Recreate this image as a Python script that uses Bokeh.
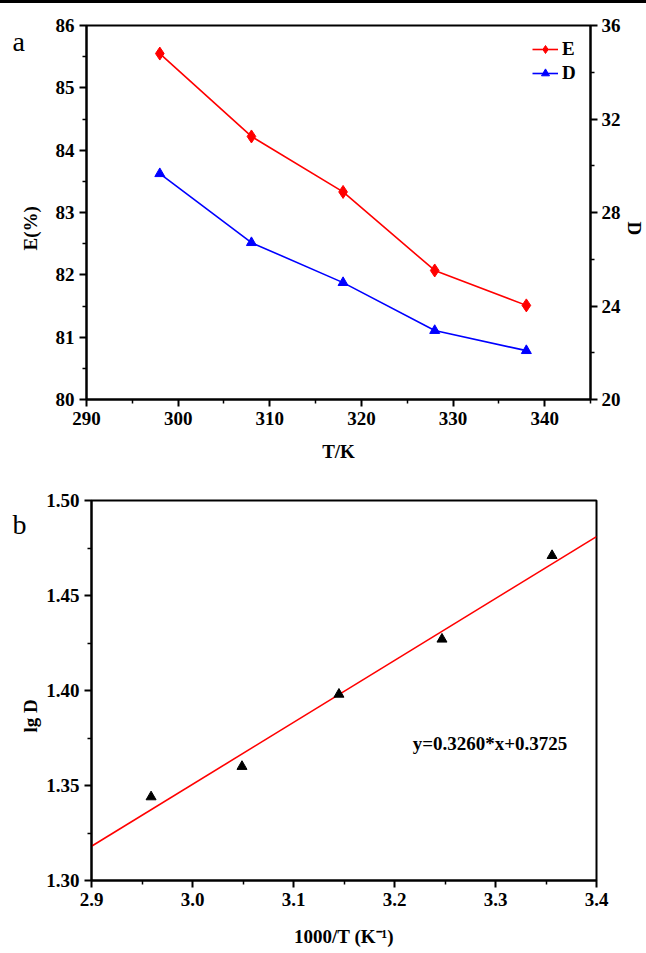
import math
from bokeh.plotting import figure
from bokeh.models import (Range1d, LinearAxis, FixedTicker, NumeralTickFormatter,
                          Label, Div, Title)
from bokeh.layouts import column, row
from bokeh.embed import file_html
from bokeh.resources import INLINE

# ---- data, panel a ----
temps = [298, 308, 318, 328, 338]
e_pct = [85.55, 84.22, 83.33, 82.07, 81.51]
d_val = [29.66, 26.71, 25.00, 22.95, 22.09]

a_xticks = [290, 300, 310, 320, 330, 340]
a_xminor = [295, 305, 315, 325, 335, 345]
a_yticks = [80, 81, 82, 83, 84, 85, 86]
a_yminor = [80.5, 81.5, 82.5, 83.5, 84.5, 85.5]
a_rticks = [20, 24, 28, 32, 36]
a_rminor = [22, 26, 30, 34]

# ---- data, panel b ----
inv_t = [2.959, 3.049, 3.145, 3.247, 3.356]
lg_d = [1.344, 1.360, 1.398, 1.427, 1.471]
fit_x = [2.9, 3.4]
fit_y = [1.318, 1.481]
b_xticks = [2.9, 3.0, 3.1, 3.2, 3.3, 3.4]
b_xminor = [2.95, 3.05, 3.15, 3.25, 3.35]
b_yticks = [1.30, 1.35, 1.40, 1.45, 1.50]
b_yminor = [1.325, 1.375, 1.425, 1.475]
equation = "y=0.3260*x+0.3725"

FONT = "Liberation Serif"
TICK_SIZE = "19px"
TITLE_SIZE = "19px"


def style_axis(ax, ticks, minor, fmt=None, standoff=5):
    ax.ticker = FixedTicker(ticks=ticks, minor_ticks=minor)
    if fmt:
        ax.formatter = NumeralTickFormatter(format=fmt)
    ax.axis_line_width = 2
    ax.axis_line_color = "black"
    ax.major_tick_line_width = 2
    ax.major_tick_line_color = "black"
    ax.minor_tick_line_width = 1.5
    ax.minor_tick_line_color = "black"
    ax.major_tick_in = 0
    ax.major_tick_out = 7
    ax.minor_tick_in = 0
    ax.minor_tick_out = 4
    ax.major_label_text_font = FONT
    ax.major_label_text_font_style = "bold"
    ax.major_label_text_font_size = TICK_SIZE
    ax.major_label_text_color = "black"
    ax.major_label_standoff = standoff
    ax.axis_label_text_font = FONT
    ax.axis_label_text_font_style = "bold"
    ax.axis_label_text_font_size = TITLE_SIZE
    ax.axis_label_text_color = "black"


def side_title(text, offset, standoff):
    return Title(text=text, align="left", offset=offset, standoff=standoff,
                 vertical_align="bottom", text_font=FONT, text_font_style="bold",
                 text_font_size=TITLE_SIZE, text_color="black")


def panel_letter(p, letter, offset, standoff):
    t = p.title
    t.text = letter
    t.align = "left"
    t.offset = offset
    t.standoff = standoff
    t.vertical_align = "bottom"
    t.text_font = FONT
    t.text_font_style = "normal"
    t.text_font_size = "28px"
    t.text_color = "black"


# ================= panel a =================
p1 = figure(width=646, height=472, x_range=Range1d(290, 345), y_range=Range1d(80, 86),
            output_backend="svg", toolbar_location=None,
            min_border_left=86, min_border_right=56, min_border_top=22, min_border_bottom=76)
p1.extra_y_ranges = {"d": Range1d(20, 36)}
p1.xgrid.visible = False
p1.ygrid.visible = False
p1.outline_line_color = "black"
p1.outline_line_width = 2
p1.background_fill_color = "white"
p1.border_fill_color = "white"

style_axis(p1.xaxis[0], a_xticks, a_xminor)
p1.xaxis[0].axis_label = "T/K"
p1.xaxis[0].axis_label_standoff = 13
style_axis(p1.yaxis[0], a_yticks, a_yminor)

rax = LinearAxis(y_range_name="d")
style_axis(rax, a_rticks, a_rminor, standoff=4)
p1.add_layout(rax, "right")

p1.line(temps, e_pct, line_color="#ff0000", line_width=1.6, legend_label="E")
p1.scatter(temps, e_pct, marker="diamond", size=13,
           fill_color="#ff0000", line_color="#ff0000", legend_label="E")
p1.line(temps, d_val, y_range_name="d", line_color="#0000ff", line_width=1.6, legend_label="D")
p1.scatter(temps, d_val, y_range_name="d", marker="triangle", size=10,
           fill_color="#0000ff", line_color="#0000ff", legend_label="D")

lg = p1.legend[0]
lg.location = (446, 315)
lg.border_line_color = None
lg.background_fill_alpha = 0
lg.margin = 0
lg.padding = 0
lg.spacing = 2
lg.glyph_width = 26
lg.glyph_height = 20
lg.label_standoff = 4
lg.label_text_font = FONT
lg.label_text_font_style = "bold"
lg.label_text_font_size = "19px"
lg.label_text_color = "black"
lg.label_height = 20

p1.add_layout(side_title("E(%)", 149, 24), "left")
p1.add_layout(side_title("D", 196, 0), "right")
panel_letter(p1, "a", -74, -62)

# ================= panel b =================
p2 = figure(width=646, height=478, x_range=Range1d(2.9, 3.4), y_range=Range1d(1.30, 1.50),
            output_backend="svg", toolbar_location=None,
            min_border_left=91, min_border_right=50, min_border_top=25, min_border_bottom=73)
p2.xgrid.visible = False
p2.ygrid.visible = False
p2.outline_line_color = "black"
p2.outline_line_width = 2
p2.background_fill_color = "white"
p2.border_fill_color = "white"

style_axis(p2.xaxis[0], b_xticks, b_xminor, fmt="0.0")
p2.xaxis[0].axis_label = "1000/T (K\u207b\u00b9)"
p2.xaxis[0].axis_label_standoff = 17
style_axis(p2.yaxis[0], b_yticks, b_yminor, fmt="0.00")

p2.line(fit_x, fit_y, line_color="#ff0000", line_width=1.6)
p2.scatter(inv_t, lg_d, marker="triangle", size=10, fill_color="black", line_color="black")

p2.add_layout(Label(x=3.218, y=1.372, text=equation,
                    text_font=FONT, text_font_style="bold", text_font_size="19px",
                    text_color="black", text_align="left", text_baseline="middle"))
p2.add_layout(side_title("lg D", 148, 6), "left")
panel_letter(p2, "b", -79, -78)

top_line = Div(text="", width=646, height=3, margin=(0, 0, 0, 0),
               styles={"background-color": "black"})

layout = column(top_line, row(p1), row(p2), spacing=0)
open("out.html", "w").write(file_html(layout, INLINE))
